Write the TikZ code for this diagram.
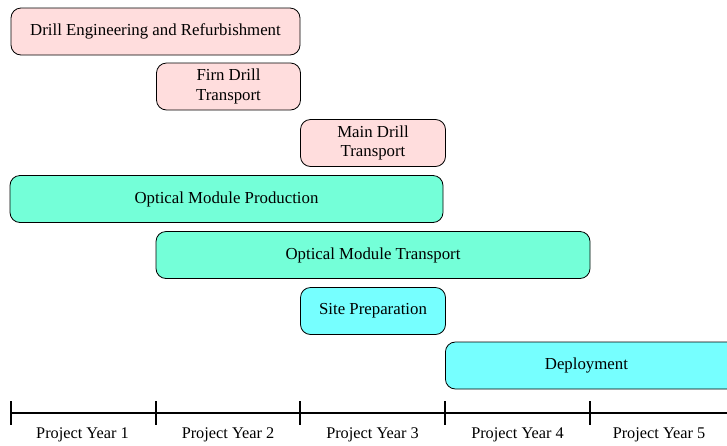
\documentclass[tikz,border=0pt]{standalone}
\usepackage{fontspec}
\setmainfont{Liberation Serif}
\begin{document}
\begin{tikzpicture}[x=1pt,y=-1pt,
  bar/.style={draw=black, line width=0.8pt, rounded corners=10pt, inner sep=0pt,
    align=center, font=\fontsize{16.8}{19.5}\selectfont},
  pinkbar/.style={bar, fill=pinkc},
  aquabar/.style={bar, fill=aquac},
  cyanbar/.style={bar, fill=cyanc},
  axis/.style={line width=1.3pt},
  yearlbl/.style={font=\fontsize{16.3}{18}\selectfont, inner sep=0pt}]
\definecolor{pinkc}{RGB}{255,221,221}
\definecolor{aquac}{RGB}{116,255,216}
\definecolor{cyanc}{RGB}{118,255,255}
\useasboundingbox (0,0) rectangle (727,445);
% bars
\node[pinkbar, minimum width=289, minimum height=47] (drill) at (155.5,31.5) {Drill Engineering and Refurbishment};
\node[pinkbar, minimum width=144, minimum height=47] (firn) at (228.5,86.5) {Firn Drill\\Transport};
\node[pinkbar, minimum width=145, minimum height=47] (main) at (373,143) {Main Drill\\Transport};
\node[aquabar, minimum width=433, minimum height=47] (omp) at (226.5,199) {Optical Module Production};
\node[aquabar, minimum width=434, minimum height=47] (omt) at (373,255) {Optical Module Transport};
\node[cyanbar, minimum width=145, minimum height=47] (site) at (373,311) {Site Preparation};
\begin{scope}
\clip (0,0) rectangle (727,445);
\node[cyanbar, minimum width=300, minimum height=47, anchor=west] (deploy) at (445,365.5) {\hspace*{-18pt}Deployment};
\end{scope}
% axis
\coordinate (a0) at (11,413);
\coordinate (aend) at (727,413);
\draw[axis] (a0) -- (aend);
\foreach \x/\n in {11/t1,156/t2,300/t3,445/t4,590/t5}{
  \draw[axis] (\x,401) -- (\x,425);
}
\node[yearlbl] (y1) at (82.5,435) {Project Year 1};
\node[yearlbl] (y2) at (228,435) {Project Year 2};
\node[yearlbl] (y3) at (372.5,435) {Project Year 3};
\node[yearlbl] (y4) at (517.5,435) {Project Year 4};
\node[yearlbl] (y5) at (659,435) {Project Year 5};
\end{tikzpicture}
\end{document}
